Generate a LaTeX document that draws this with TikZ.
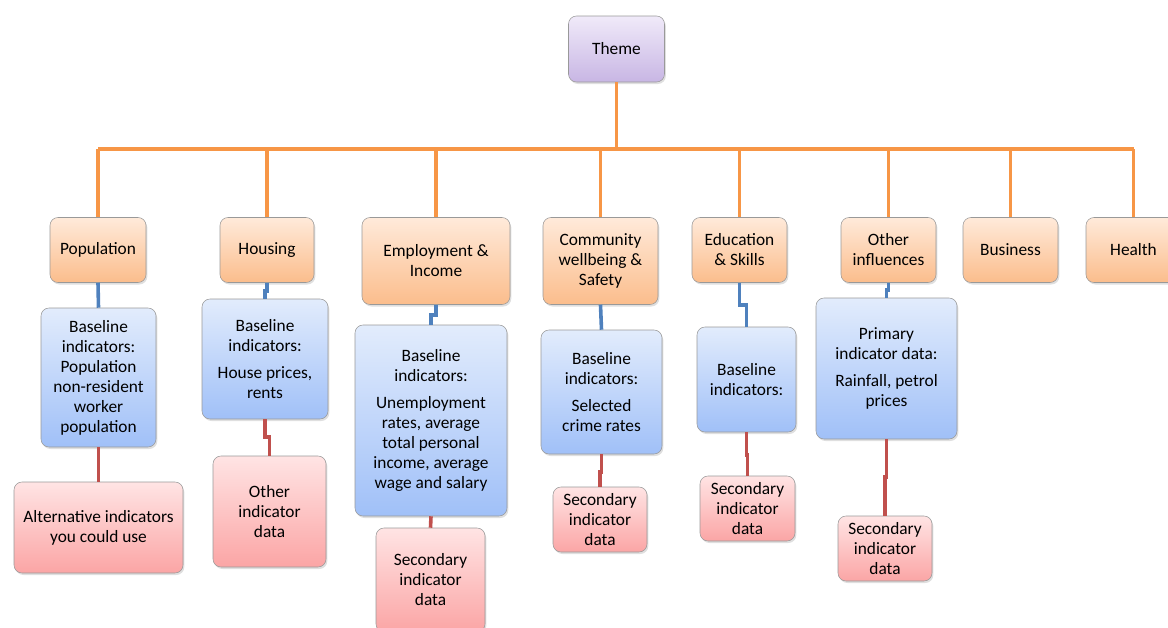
\documentclass[tikz,border=0pt]{standalone}
\usepackage{fontspec}
\setmainfont{Carlito}
\usetikzlibrary{positioning}
\usetikzlibrary{shadows}

\definecolor{lineOrange}{HTML}{F79646}
\definecolor{lineBlue}{HTML}{4F81BD}
\definecolor{lineRed}{HTML}{C0504D}

\begin{document}
\begin{tikzpicture}[x=0.75pt, y=-0.75pt,
		box/.style={draw=black!40, rounded corners=6pt, align=center, inner sep=1pt,
			font=\fontsize{13}{15}\selectfont,
			drop shadow={shadow xshift=1pt, shadow yshift=-1.5pt, opacity=0.25}
		},
		themebox/.style={box, top color={rgb,255:red,240;green,234;blue,249}, bottom color={rgb,255:red,200;green,182;blue,228}},
		catbox/.style={box, top color={rgb,255:red,255;green,234;blue,218}, bottom color={rgb,255:red,251;green,189;blue,140}},
		basebox/.style={box, top color={rgb,255:red,226;green,236;blue,252}, bottom color={rgb,255:red,160;green,192;blue,248}},
		secbox/.style={box, top color={rgb,255:red,255;green,228;blue,228}, bottom color={rgb,255:red,251;green,165;blue,165}},
		orangeline/.style={draw=lineOrange, line width=2.7pt},
		blueline/.style={draw=lineBlue, line width=2.7pt},
		redline/.style={draw=lineRed, line width=2.7pt}
		]
		
		\useasboundingbox (0,0) rectangle (1168,628);
		\clip (0,0) rectangle (1168,628);
		
		\node[themebox, minimum width=72pt, minimum height=49.5pt] (thm) at (616.5,49) {Theme};
		
		\node[catbox, minimum width=72pt, minimum height=48.75pt] (catPop) at (98,250) {Population};
		\node[catbox, minimum width=70.5pt, minimum height=48.75pt] (catHous) at (267,250) {Housing};
		\node[catbox, minimum width=111pt, minimum height=65.25pt] (catEmp) at (436,261) {Employment \&\\Income};
		\node[catbox, minimum width=86.25pt, minimum height=65.25pt] (catComm) at (600.5,261) {Community\\wellbeing \&\\Safety};
		\node[catbox, minimum width=71.25pt, minimum height=48.75pt] (catEdu) at (739.5,250) {Education\\\& Skills};
		\node[catbox, minimum width=71.25pt, minimum height=48.75pt] (catOth) at (888.5,250) {Other\\influences};
		\node[catbox, minimum width=71.25pt, minimum height=48.75pt] (catBus) at (1010.5,250) {Business};
		\node[catbox, minimum width=71.25pt, minimum height=48.75pt] (catHlth) at (1133.5,250) {Health};
		
		\node[basebox, minimum width=86.25pt, minimum height=104.25pt] (basePop) at (98.5,377.5) {Baseline\\indicators:\\Population\\non-resident\\worker\\population};
		\node[basebox, minimum width=94.5pt, minimum height=90pt] (baseHous) at (265,359) {Baseline\\indicators:\\[5pt]House prices,\\rents};
		\node[basebox, minimum width=114pt, minimum height=143.25pt] (baseEmp) at (431,420.5) {Baseline\\indicators:\\[5pt]Unemployment\\rates, average\\total personal\\income, average\\wage and salary};
		\node[basebox, minimum width=90.75pt, minimum height=93pt] (baseComm) at (601.5,392) {Baseline\\indicators:\\[5pt]Selected\\crime rates};
		\node[basebox, minimum width=74.25pt, minimum height=78.75pt] (baseEdu) at (746.5,379.5) {Baseline\\indicators:};
		\node[basebox, minimum width=105.75pt, minimum height=105.75pt] (baseOth) at (886.5,368.5) {Primary\\indicator data:\\[5pt]Rainfall, petrol\\prices};
		
		\node[secbox, minimum width=126.75pt, minimum height=68.25pt] (secPop) at (98.5,527.5) {Alternative indicators\\you could use};
		\node[secbox, minimum width=84.75pt, minimum height=83.25pt] (secHous) at (269.5,511.5) {Other\\indicator\\data};
		\node[secbox, minimum width=81.75pt, minimum height=78pt] (secEmp) at (430.5,580) {Secondary\\indicator\\data};
		\node[secbox, minimum width=70.5pt, minimum height=48.75pt] (secComm) at (600,519.5) {Secondary\\indicator\\data};
		\node[secbox, minimum width=71.25pt, minimum height=48.75pt] (secEdu) at (747.5,508.5) {Secondary\\indicator\\data};
		\node[secbox, minimum width=70.5pt, minimum height=48.75pt] (secOth) at (885,548.5) {Secondary\\indicator\\data};
		
		% theme to categories
		\coordinate (bus) at (616.5,149);
		\draw[orangeline] (thm.south) -- (bus);
		\draw[orangeline] (catPop.north |- bus) -- (catHlth.north |- bus);
		\draw[orangeline] (catPop.north) -- (catPop.north |- bus);
		\draw[orangeline] (catHous.north) -- (catHous.north |- bus);
		\draw[orangeline] (catEmp.north) -- (catEmp.north |- bus);
		\draw[orangeline] (catComm.north) -- (catComm.north |- bus);
		\draw[orangeline] (catEdu.north) -- (catEdu.north |- bus);
		\draw[orangeline] (catOth.north) -- (catOth.north |- bus);
		\draw[orangeline] (catBus.north) -- (catBus.north |- bus);
		\draw[orangeline] (catHlth.north) -- (catHlth.north |- bus);
		
		% categories to baseline
		\draw[blueline] (catPop.south) -- (basePop.north);
		\draw[blueline] (catHous.south) --++(0,8) -| (baseHous.north);
		\draw[blueline] (catEmp.south) --++(0,10) -| (baseEmp.north);
		\draw[blueline] (catComm.south) -- (baseComm.north);
		\draw[blueline] (catEdu.south) --++(0,22) -| (baseEdu.north);
		\draw[blueline] (catOth.south) --++(0,7) -| (baseOth.north);
		
		% baseline to secondary
		\draw[redline] (basePop.south) -- (secPop.north);
		\draw[redline] (baseHous.south) --++(0,18) -| (secHous.north);
		\draw[redline] (baseEmp.south) -- (secEmp.north);
		\draw[redline] (baseComm.south) --++(0,18) -| (secComm.north);
		\draw[redline] (baseEdu.south) --++(0,23) -| (secEdu.north);
		\draw[redline] (baseOth.south) --++(0,38) -| (secOth.north);
	\end{tikzpicture}
\end{document}
